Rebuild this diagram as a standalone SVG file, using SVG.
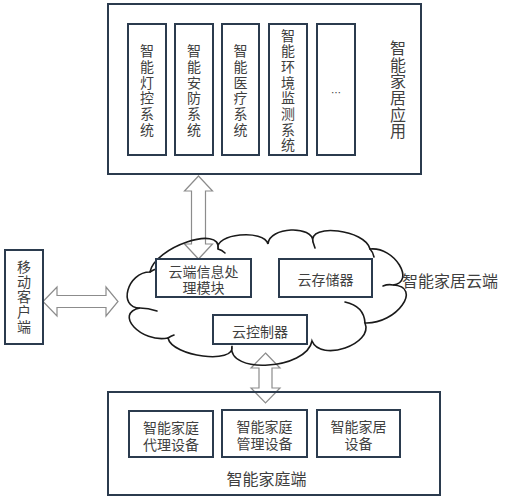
<svg xmlns="http://www.w3.org/2000/svg" width="505" height="500" viewBox="0 0 505 500">
<style>
.box{fill:#fff;stroke:#2b3b4e;stroke-width:2}
.outer{fill:none;stroke:#2b3b4e;stroke-width:2}
.t{font-family:"Noto Sans CJK SC","Noto Sans",sans-serif;font-size:14px;fill:#3f3f3f;text-anchor:middle;dominant-baseline:central}
.v{font-family:"Noto Sans CJK SC","Noto Sans",sans-serif;font-size:14px;fill:#3f3f3f;text-anchor:middle;writing-mode:vertical-rl;letter-spacing:1.7px}
.lbl{font-family:"Noto Sans CJK SC","Noto Sans",sans-serif;font-size:16px;fill:#3f3f3f;dominant-baseline:central}
.arrow{fill:#fff;stroke:#8c8c8c;stroke-width:1.2;stroke-linejoin:miter}
.cloud{fill:none;stroke:#1a1a1a;stroke-width:1.6;stroke-linecap:round}
</style>
<rect width="505" height="500" fill="#fff"/>

<g id="connectors">
<polygon class="arrow" points="198.5,176 212.5,191 205.5,191 205.5,244 212.5,244 198.5,259 184.5,244 191.5,244 191.5,191 184.5,191"/>
<polygon class="arrow" points="43,301.5 57,287 57,295.5 106,295.5 106,287 118,301.5 106,316 106,307.5 57,307.5 57,316"/>
<polygon class="arrow" points="265.5,353 280,368 272,368 272,388 280,388 265.5,403 251,388 259,388 259,368 251,368"/>
</g>

<g id="app">
<rect class="outer" x="108" y="4" width="313" height="170"/>
<text class="v" x="398" y="90" style="font-size:16px;letter-spacing:0.7px">智能家居应用</text>
</g>
<g id="light">
<rect class="box" x="128" y="24" width="38" height="131"/>
<text class="v" x="147" y="91">智能灯控系统</text>
</g>
<g id="security">
<rect class="box" x="175" y="24" width="38" height="131"/>
<text class="v" x="194" y="91">智能安防系统</text>
</g>
<g id="medical">
<rect class="box" x="222" y="24" width="37" height="131"/>
<text class="v" x="240.5" y="91">智能医疗系统</text>
</g>
<g id="env">
<rect class="box" x="269" y="24" width="38" height="131"/>
<text class="v" x="288" y="91">智能环境监测系统</text>
</g>
<g id="more">
<rect class="box" x="317" y="24" width="38" height="131"/>
<text class="t" x="336" y="92" style="font-size:10px">…</text>
</g>

<g id="mobile">
<rect class="box" x="5" y="250" width="38" height="94"/>
<text class="v" x="24" y="297.5" style="letter-spacing:1px">移动客户端</text>
</g>

<g id="cloud">
<path class="cloud" d="M150,272 C154,247.3 222,224.3 218,249 C214,233.7 264,228.7 268,244 C268.7,226.7 313.7,224.7 313,242 C308.3,222.7 365.3,229.7 370,249 C394.7,246.3 416,282.3 393,285 C423,286.3 397,324.3 365,323 C373.7,344.3 320.7,362.3 312,341 C306.7,369.7 226.7,374.7 232,346 C236,364.7 172,356.7 168,338 C141.3,343.3 113.3,313.3 140,308 C117.3,308 127.3,272 150,272 Z"/>
<path class="cloud" d="M218,249 Q222,250 225,253 M313,242 Q314,245 315,248 M370,249 Q373,252 374,257 M393,285 Q388,284 383,286 M365,323 Q364,306 345,302 M140,308 Q148,308 157,311 M168,338 Q171,336 174,335 M150,272 Q153,270 156,269"/>
<text class="lbl" x="402" y="280">智能家居云端</text>
</g>
<g id="cloudproc">
<rect class="box" x="156" y="259" width="95" height="38"/>
<text class="t"><tspan x="203.5" y="271">云端信息处</tspan><tspan x="203.5" dy="16">理模块</tspan></text>
</g>
<g id="storage">
<rect class="box" x="279" y="259" width="93" height="38"/>
<text class="t" x="325.5" y="279">云存储器</text>
</g>
<g id="controller">
<rect class="box" x="213" y="315" width="94" height="29"/>
<text class="t" x="260" y="331">云控制器</text>
</g>

<g id="home">
<rect class="outer" x="108" y="392" width="332" height="103"/>
<text class="lbl" x="266.5" y="478" text-anchor="middle">智能家庭端</text>
</g>
<g id="agent">
<rect class="box" x="129" y="411" width="84" height="46"/>
<text class="t"><tspan x="171" y="427">智能家庭</tspan><tspan x="171" dy="17">代理设备</tspan></text>
</g>
<g id="manager">
<rect class="box" x="222" y="410" width="85" height="47"/>
<text class="t"><tspan x="264.5" y="426">智能家庭</tspan><tspan x="264.5" dy="17">管理设备</tspan></text>
</g>
<g id="device">
<rect class="box" x="317" y="410" width="83" height="47"/>
<text class="t"><tspan x="358.5" y="426">智能家居</tspan><tspan x="358.5" dy="17">设备</tspan></text>
</g>
</svg>
